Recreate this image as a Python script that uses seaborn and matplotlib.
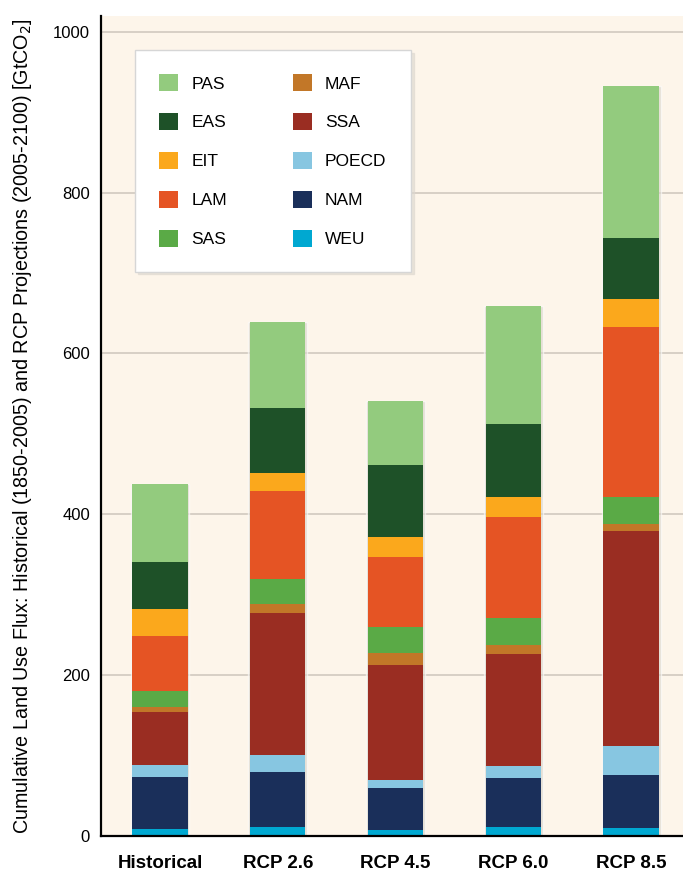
import matplotlib
matplotlib.use("Agg")
import matplotlib.pyplot as plt
from matplotlib.patches import Patch
import pandas as pd
import seaborn as sns

scenarios = ["Historical", "RCP 2.6", "RCP 4.5", "RCP 6.0", "RCP 8.5"]
# regions listed bottom of the stack first
regions = ["WEU", "NAM", "POECD", "SSA", "MAF", "SAS", "LAM", "EIT", "EAS", "PAS"]
weu = [8.7, 11.6, 7.8, 10.8, 9.6]
nam = [65.0, 68.3, 51.8, 61.2, 66.3]
poecd = [14.1, 20.3, 10.0, 15.0, 35.8]
ssa = [65.9, 176.8, 143.2, 139.1, 267.8]
maf = [6.5, 11.6, 14.2, 11.5, 8.1]
sas = [19.9, 30.3, 32.6, 33.6, 34.4]
lam = [68.7, 110.0, 87.4, 125.1, 210.3]
eit = [33.2, 22.9, 25.3, 25.2, 35.6]
eas = [58.7, 79.9, 89.4, 90.3, 75.8]
pas = [97.4, 106.8, 78.7, 146.6, 189.0]
colors = {
    "PAS": "#93cb7e", "EAS": "#1e5128", "EIT": "#fba81c", "LAM": "#e55424",
    "SAS": "#5aaa46", "MAF": "#c27728", "SSA": "#9a2d22", "POECD": "#87c6e1",
    "NAM": "#1a2f5a", "WEU": "#00a8d1",
}

df = pd.DataFrame({"WEU": weu, "NAM": nam, "POECD": poecd, "SSA": ssa, "MAF": maf,
                   "SAS": sas, "LAM": lam, "EIT": eit, "EAS": eas, "PAS": pas},
                  index=scenarios)
cum = df[regions].cumsum(axis=1)

sns.set_style("white")
plt.rcParams["font.family"] = ["Liberation Sans", "DejaVu Sans"]
plt.rcParams["text.color"] = "black"

fig = plt.figure(figsize=(6.83, 8.73), dpi=100)
ax = fig.add_axes([0.148, 0.0424, 0.852, 0.9393])
ax.set_facecolor("#fdf5ea")

# soft halo behind each stack
sns.barplot(x=scenarios, y=cum["PAS"].values, color="#d8d2ca", width=0.50,
            saturation=1, ax=ax, alpha=0.6)
# stacked segments: draw tallest cumulative first, then overlay smaller ones
for reg in regions[::-1]:
    sns.barplot(x=scenarios, y=cum[reg].values, color=colors[reg], width=0.47,
                saturation=1, ax=ax, edgecolor="none")

ax.set_xlim(-0.5, 4.44)
ax.set_ylim(0, 1019.5)
ax.set_yticks([0, 200, 400, 600, 800, 1000])
ax.yaxis.grid(True, color="#cdc6bc", linewidth=1.1)
ax.set_axisbelow(True)
for s in ["top", "right"]:
    ax.spines[s].set_visible(False)
for s in ["left", "bottom"]:
    ax.spines[s].set_color("black")
    ax.spines[s].set_linewidth(1.6)
ax.tick_params(axis="y", length=0, pad=8, labelsize=12, colors="black")
ax.tick_params(axis="x", length=0, pad=14, colors="black")
for lab in ax.get_xticklabels():
    lab.set_fontweight("bold")
    lab.set_fontsize(13.5)

ax.set_ylabel("Cumulative Land Use Flux: Historical (1850-2005) and RCP Projections (2005-2100) [GtCO$_2$]",
              fontsize=14.2, labelpad=14, color="black")

order = ["PAS", "EAS", "EIT", "LAM", "SAS", "MAF", "SSA", "POECD", "NAM", "WEU"]
handles = [Patch(facecolor=colors[r], edgecolor="none") for r in order]
leg = ax.legend(handles, order, ncol=2, loc="upper left", bbox_to_anchor=(0.058, 0.9585),
                frameon=True, fancybox=False, fontsize=12.5, handlelength=1.1,
                handleheight=1.1, handletextpad=0.75, labelspacing=1.25,
                columnspacing=3.8, borderpad=1.4, borderaxespad=0,
                shadow={"color": "#ddd7cf", "alpha": 0.6})
leg.get_frame().set_edgecolor("#d6d6d6")
leg.get_frame().set_linewidth(1.0)
leg.get_frame().set_facecolor("white")
leg.get_frame().set_alpha(1)

fig.savefig("out.png", dpi=100)
